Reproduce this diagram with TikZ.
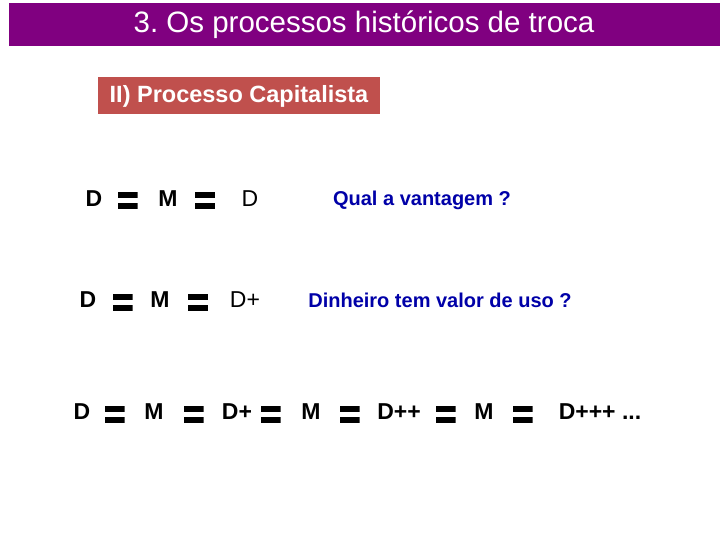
\documentclass[tikz,border=0pt]{standalone}
\usepackage{fontspec}
\setmainfont{Liberation Sans}
\frenchspacing
\definecolor{titlepurple}{HTML}{800080}
\definecolor{subred}{HTML}{C0504D}
\definecolor{qblue}{HTML}{0000A8}
\begin{document}
\begin{tikzpicture}[x=1pt,y=-1pt,
  lbl/.style={inner sep=0pt,font=\fontsize{23}{25}\selectfont\bfseries},
  lblr/.style={inner sep=0pt,font=\fontsize{23}{25}\selectfont},
  lbls/.style={inner sep=0pt,font=\fontsize{23}{25}\selectfont\bfseries},
  q/.style={inner sep=0pt,text=qblue,font=\fontsize{20}{22}\selectfont\bfseries},
  eqs/.style={inner sep=0pt,minimum width=20pt,minimum height=17pt,
    path picture={
      \fill[black] (path picture bounding box.north west) rectangle ([yshift=-6pt]path picture bounding box.north east);
      \fill[black] ([yshift=6pt]path picture bounding box.south west) rectangle (path picture bounding box.south east);
    }}]
\useasboundingbox (0,0) rectangle (720,540);
\fill[white] (0,0) rectangle (720,540);
% title
\node[fill=titlepurple,minimum width=711pt,minimum height=43pt,inner sep=0pt,anchor=north west] (titlebar) at (9,3) {};
\node[text=white,inner sep=0pt,font=\fontsize{29.5}{32}\selectfont] (title) at (364,25) {3. Os processos históricos de troca};
% subtitle
\node[fill=subred,text=white,minimum width=282pt,minimum height=37pt,inner sep=0pt,font=\fontsize{23.5}{26}\selectfont\bfseries] (sub) at (239,96) {II) Processo Capitalista};
% row 1
\node[lbl] (a1) at (94,199) {D};
\node[eqs] (ae1) at (127.5,201) {};
\node[lbl] (a2) at (168,199) {M};
\node[eqs] (ae2) at (205,201) {};
\node[lblr] (a3) at (250,199) {D};
\node[q] (aq) at (422,200) {Qual a vantagem ?};
% row 2
\node[lbl] (b1) at (88,300) {D};
\node[eqs] (be1) at (122.5,302) {};
\node[lbl] (b2) at (160,300) {M};
\node[eqs] (be2) at (198,302) {};
\node[lblr] (b3) at (245,300) {D+};
\node[q] (bq) at (440,300) {Dinheiro tem valor de uso ?};
% row 3
\node[lbls] (c1) at (82,412) {D};
\node[eqs] (ce1) at (114.5,414) {};
\node[lbls] (c2) at (154,412) {M};
\node[eqs] (ce2) at (193.5,414) {};
\node[lbls] (c3) at (237,412) {D+};
\node[eqs] (ce3) at (270.5,414) {};
\node[lbls] (c4) at (311,412) {M};
\node[eqs] (ce4) at (349.5,414) {};
\node[lbls] (c5) at (399,412) {D++};
\node[eqs] (ce5) at (445.5,414) {};
\node[lbls] (c6) at (484,412) {M};
\node[eqs] (ce6) at (522.5,414) {};
\node[lbls] (c7) at (600,412) {D+++ ...};
\end{tikzpicture}
\end{document}
